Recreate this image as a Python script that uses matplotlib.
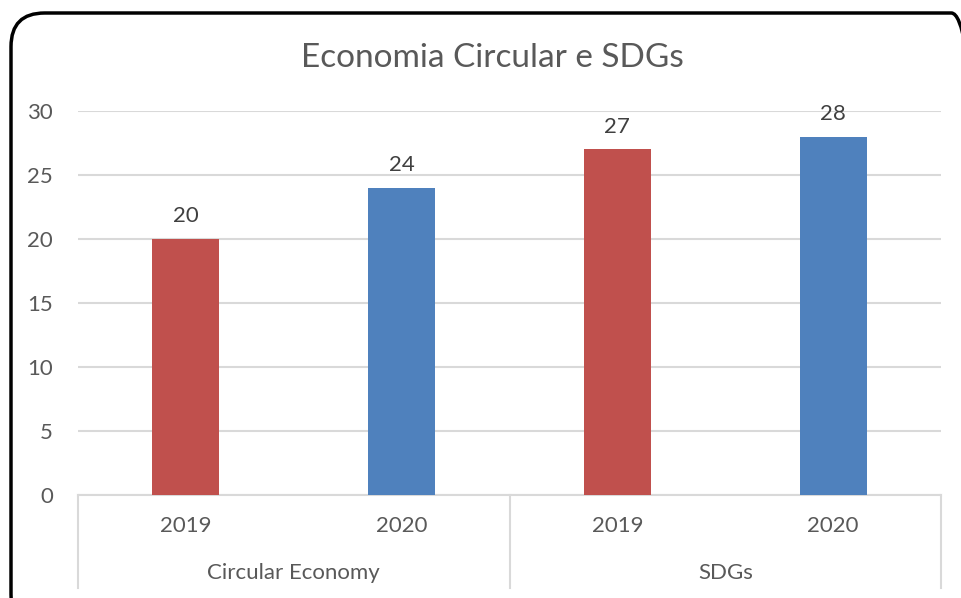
import numpy as np
import matplotlib
matplotlib.use("Agg")
import matplotlib.pyplot as plt
from matplotlib.patches import FancyBboxPatch

# data
groups = ["Circular Economy", "SDGs"]
years = ["2019", "2020", "2019", "2020"]
values = [20, 24, 27, 28]
bar_colors = ["#C0504D", "#4F81BD", "#C0504D", "#4F81BD"]
title = "Economia Circular e SDGs"

plt.rcParams['font.family'] = ['Lato', 'DejaVu Sans']
W, H = 961, 598
fig = plt.figure(figsize=(W / 100, H / 100), dpi=100)

# plot area in pixel coords of the reference
x0, x1, ytop, ybot = 78, 941, 111, 495
ax = fig.add_axes([x0 / W, 1 - ybot / H, (x1 - x0) / W, (ybot - ytop) / H])

txt = "#595959"
grid = "#D9D9D9"
x = np.arange(len(values))
ax.bar(x, values, width=0.31, color=bar_colors, zorder=3)
for xi, v in zip(x, values):
    ax.annotate(str(v), (xi, v), xytext=(0, 9), textcoords="offset points",
                ha="center", va="bottom", fontsize=16, color="#404040", zorder=4)

ax.set_xlim(-0.5, len(values) - 0.5)
ax.set_ylim(0, 30)
ax.set_yticks(range(0, 31, 5))
ax.yaxis.grid(True, color=grid, linewidth=1.5)
ax.set_axisbelow(True)
for s in ["top", "right", "left"]:
    ax.spines[s].set_visible(False)
ax.spines["bottom"].set_color(grid)
ax.spines["bottom"].set_linewidth(1.5)
ax.tick_params(axis="y", length=0, pad=18, labelsize=16, labelcolor=txt)
ax.set_xticks([])

# first level labels (years) and group labels
for xi, yr in zip(x, years):
    ax.text(xi, -2.45, yr, ha="center", va="center", fontsize=16, color=txt,
            transform=ax.transData, clip_on=False)
for gi, g in enumerate(groups):
    ax.text(gi * 2 + 0.5, -6.1, g, ha="center", va="center", fontsize=16,
            color=txt, clip_on=False)
for sx in [-0.5, 1.5, 3.5]:
    ax.plot([sx, sx], [0, -7.3], color=grid, linewidth=1.5, clip_on=False)

fig.text(492 / W, 1 - 58 / H, title, ha="center", va="center", fontsize=24, color=txt)

# rounded border around the chart (partly cut off by the image edge)
border = FancyBboxPatch((11 / W, -0.05), 985 / W - 11 / W, (1 - 13 / H) + 0.05,
                        boxstyle="round,pad=0,rounding_size=0.035",
                        transform=fig.transFigure, fill=False,
                        edgecolor="black", linewidth=2.5, mutation_aspect=W / H)
fig.patches.append(border)

fig.savefig("out.png", dpi=100)
